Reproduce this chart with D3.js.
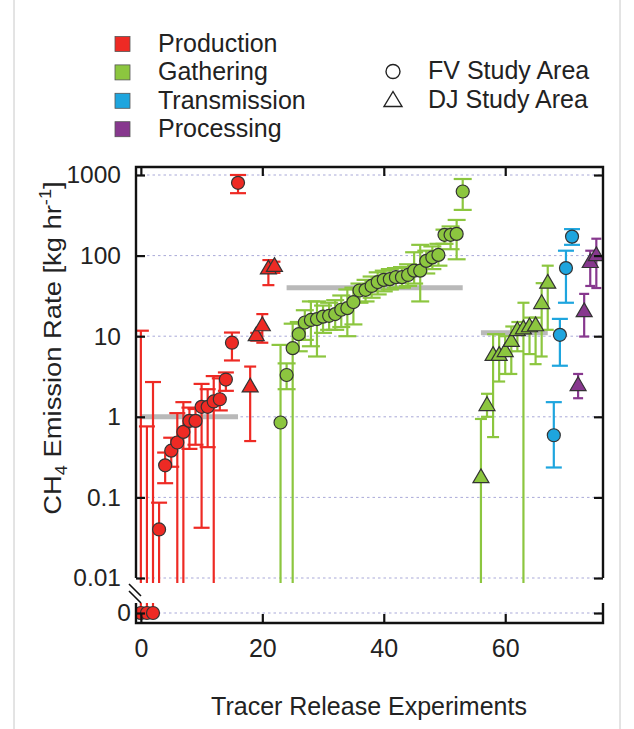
<!DOCTYPE html>
<html><head><meta charset="utf-8">
<script src="https://cdn.jsdelivr.net/npm/d3@7"></script>
<style>
body{margin:0;background:#fff}
svg{display:block}
text{font-family:"Liberation Sans",Arial,sans-serif;fill:#222}
</style>
</head><body><svg id="c" width="634" height="729"></svg>
<script>
// ---------- data ----------
const sectors = ["Production","Gathering","Transmission","Processing"];
const sectorColors = ["#ee2a24","#8cc63f","#1ea5de","#87388e"];
const areas = ["FV Study Area","DJ Study Area"];
const yTicks = [1000,100,10,1,0.1,0.01];
const yTickLabels = ["1000","100","10","1","0.1","0.01"];
const xTicks = [0,20,40,60];

// Production, FV (circles)
const prodFVx  = [0,1,2,3,4,5,6,7,8,9,10,11,12,13,14,15,16];
const prodFVv  = [0,0,0,0.04,0.25,0.38,0.48,0.65,0.89,0.89,1.33,1.33,1.55,1.65,2.9,8.3,800];
const prodFVlo = [0,0,0,0,0.15,0.24,0,0,0.4,0.45,0.042,0.42,0,1.2,2.1,5.0,595];
const prodFVhi = [11.7,0.76,2.7,0.086,0.36,0.55,1.11,1.52,1.3,1.25,2.56,2.2,3.2,3.0,3.55,11.1,1000];
// Production, DJ (triangles)
const prodDJx  = [18,19,20,21,22];
const prodDJv  = [2.4,10.4,13.8,70,75];
const prodDJlo = [0.5,8.8,8.3,43,61];
const prodDJhi = [4.2,11,18.8,88,84];
// Gathering, FV
const gathFVx  = [23,24,25,26,27,28,29,30,31,32,33,34,35,36,37,38,39,40,41,42,43,44,45,46,47,48,49,50,51,52,53];
const gathFVv  = [0.85,3.3,7.1,10.6,14.8,15.9,16.3,17.5,17.9,18.8,21.3,22.3,26.5,36.9,37.6,42,47,50,51,54,54,57.5,65,65,86,95,102,181,181,186,624];
const gathFVlo = [0,2.2,0,6.5,9,7.5,5.6,11,12,12,13,10,14,26,27,30,33,36,38,40,40,42,45,27,60,68,75,140,120,90,369];
const gathFVhi = [7.8,4.6,14.3,15,21,27,27,24,26,28,32,38,40,45,50,55,62,65,68,70,72,78,110,136,115,130,140,210,230,277,892];
// Gathering, DJ
const gathDJx  = [56,57,58,59,60,61,62,63,64,65,66,67];
const gathDJv  = [0.18,1.41,5.9,5.9,6.6,8.8,12.0,12.6,13.4,13.8,26,46.5];
const gathDJlo = [0,1.0,0.56,2.74,3.4,3.4,6.5,0,6,4.5,5.6,12];
const gathDJhi = [0.94,1.93,10.6,10.6,10,13.2,15,26,17,17,45.5,75];
// Transmission, FV
const tranFVx  = [68,69,70,71];
const tranFVv  = [0.59,10.4,70,172];
const tranFVlo = [0.235,4.3,26,136];
const tranFVhi = [1.52,16.4,115,213];
// Processing, DJ
const procDJx  = [72,73,74,75];
const procDJv  = [2.5,20.6,84,102];
const procDJlo = [1.7,9.9,42,39.6];
const procDJhi = [3.4,33.5,115,162];
// group means (grey bars)
const meanX0 = [0,24,56];
const meanX1 = [16,53,67];
const meanV  = [1,40,11];

const groups = [
  {s:0,a:0,x:prodFVx,v:prodFVv,lo:prodFVlo,hi:prodFVhi,cap:8},
  {s:0,a:1,x:prodDJx,v:prodDJv,lo:prodDJlo,hi:prodDJhi,cap:6},
  {s:1,a:0,x:gathFVx,v:gathFVv,lo:gathFVlo,hi:gathFVhi,cap:9},
  {s:1,a:1,x:gathDJx,v:gathDJv,lo:gathDJlo,hi:gathDJhi,cap:6},
  {s:2,a:0,x:tranFVx,v:tranFVv,lo:tranFVlo,hi:tranFVhi,cap:8},
  {s:3,a:1,x:procDJx,v:procDJv,lo:procDJlo,hi:procDJhi,cap:5}
];
const points = [];
groups.forEach(g=>g.x.forEach((xx,i)=>points.push({x:xx,v:g.v[i],lo:g.lo[i],hi:g.hi[i],s:g.s,a:g.a,cap:g.cap})));

// ---------- layout ----------
const svg = d3.select("#c");
const L=136, R=603, T=167, B=623, breakLo=583, breakHi=603;
const x = d3.scaleLinear().domain([-0.8,76.1]).range([L,R]);
const y = d3.scaleLog().domain([0.01,1000]).range([578,175]);
const yZ = d3.scaleLinear().domain([0,1]).range([613,603]);
const yPos = v => v===0 ? yZ(0) : y(v);

// outer panel lines
svg.append("line").attr("x1",14).attr("x2",14).attr("y1",0).attr("y2",729).attr("stroke","#c8c8c8").attr("stroke-width",1);
svg.append("line").attr("x1",620).attr("x2",620).attr("y1",0).attr("y2",729).attr("stroke","#c8c8c8").attr("stroke-width",1);

svg.append("defs").append("clipPath").attr("id","clip").append("rect")
  .attr("x",L).attr("y",T).attr("width",R-L).attr("height",B-T);

// grid
const grid = svg.append("g");
yTicks.forEach(t=>grid.append("line").attr("x1",L).attr("x2",R).attr("y1",y(t)).attr("y2",y(t)));
grid.append("line").attr("x1",L).attr("x2",R).attr("y1",yZ(0)).attr("y2",yZ(0));
grid.selectAll("line").attr("stroke","#a9a9d8").attr("stroke-width",1).attr("stroke-dasharray","2.5,3");

const plot = svg.append("g").attr("clip-path","url(#clip)");

// grey mean bars
meanV.forEach((m,i)=>plot.append("line")
  .attr("x1",x(meanX0[i])).attr("x2",x(meanX1[i])).attr("y1",y(m)).attr("y2",y(m))
  .attr("stroke","#b9b9b9").attr("stroke-width",5));

// error bars
const eb = plot.append("g").attr("stroke-width",2.2).attr("fill","none");
points.forEach(p=>{
  const c = sectorColors[p.s], cx = x(p.x);
  const top = y(p.hi);
  const bot = (p.lo>=0.01) ? y(p.lo) : breakLo;
  eb.append("line").attr("x1",cx).attr("x2",cx).attr("y1",top).attr("y2",bot).attr("stroke",c);
  eb.append("line").attr("x1",cx-p.cap).attr("x2",cx+p.cap).attr("y1",top).attr("y2",top).attr("stroke",c);
  if(p.lo>=0.01) eb.append("line").attr("x1",cx-p.cap).attr("x2",cx+p.cap).attr("y1",bot).attr("y2",bot).attr("stroke",c);
  if(p.v===0) eb.append("line").attr("x1",cx).attr("x2",cx).attr("y1",yZ(0)).attr("y2",breakHi).attr("stroke",c);
});

// markers
const tri = "M0,-8L8,5.8L-8,5.8Z";
const mk = plot.append("g");
points.forEach(p=>{
  const cx=x(p.x), cy=yPos(p.v), c=sectorColors[p.s];
  if(p.a===0) mk.append("circle").attr("cx",cx).attr("cy",cy).attr("r",6.5)
      .attr("fill",c).attr("stroke","#333").attr("stroke-width",1.2);
  else mk.append("path").attr("d",tri).attr("transform",`translate(${cx},${cy})`)
      .attr("fill",c).attr("stroke","#333").attr("stroke-width",1.2);
});

// ---------- axes ----------
const ax = svg.append("g");
const axStyle = g=>{g.select(".domain").remove(); g.selectAll("line").attr("stroke","#111").attr("stroke-width",2.2);};
ax.append("g").attr("transform",`translate(${L},0)`).call(d3.axisRight(y).tickValues(yTicks).tickSize(9).tickFormat("")).call(axStyle);
ax.append("g").attr("transform",`translate(${L},0)`).call(d3.axisRight(yZ).tickValues([0]).tickSize(9).tickFormat("")).call(axStyle);
ax.append("g").attr("transform",`translate(${R},0)`).call(d3.axisLeft(y).tickValues(yTicks).tickSize(9).tickFormat("")).call(axStyle);
ax.append("g").attr("transform",`translate(${R},0)`).call(d3.axisLeft(yZ).tickValues([0]).tickSize(9).tickFormat("")).call(axStyle);
ax.append("g").attr("transform",`translate(0,${T})`).call(d3.axisBottom(x).tickValues(xTicks).tickSize(9).tickFormat("")).call(axStyle);
ax.append("g").attr("transform",`translate(0,${B})`).call(d3.axisTop(x).tickValues(xTicks).tickSize(9).tickFormat("")).call(axStyle);
const lab = fs=>g=>{g.select(".domain").remove(); g.selectAll("text").attr("font-size",fs).attr("fill","#222").attr("font-family","Liberation Sans, Arial, sans-serif");};
ax.append("g").attr("transform",`translate(${L},0)`).call(d3.axisLeft(y).tickValues(yTicks).tickSize(0).tickPadding(15).tickFormat((d,i)=>yTickLabels[i])).call(lab(24.5));
ax.append("g").attr("transform",`translate(${L},0)`).call(d3.axisLeft(yZ).tickValues([0]).tickSize(0).tickPadding(5).tickFormat(d3.format("d"))).call(lab(24.5));
ax.append("g").attr("transform",`translate(0,${B})`).call(d3.axisBottom(x).tickValues(xTicks).tickSize(0).tickPadding(16).tickFormat(d3.format("d"))).call(lab(25));

// frame
const fr = svg.append("g").attr("stroke","#111").attr("stroke-width",2.4).attr("fill","none");
fr.append("path").attr("d",`M${L},${y(0.01)}V${T}H${R}V${y(0.01)}`);
fr.append("path").attr("d",`M${L},${breakHi}V${B}H${R}V${breakHi}`);
fr.append("path").attr("d",`M${L-7},${584}L${L+5},${596}M${L-7},${591}L${L+5},${603}`).attr("stroke-width",1.6);

// axis titles
svg.append("text").attr("x",369).attr("y",715).attr("text-anchor","middle").attr("font-size",25).text("Tracer Release Experiments");
const yl = svg.append("text").attr("transform","translate(61,348) rotate(-90) scale(1.14,1)").attr("text-anchor","middle").attr("font-size",24);
yl.append("tspan").text("CH");
yl.append("tspan").attr("font-size",16).attr("dy",6).text("4");
yl.append("tspan").attr("dy",-6).text(" Emission Rate [kg hr");
yl.append("tspan").attr("font-size",16).attr("dy",-10).text("-1");
yl.append("tspan").attr("dy",10).text("]");

// legend
const lg = svg.append("g");
sectors.forEach((s,i)=>{
  const by = 52 + i*28.4;
  lg.append("rect").attr("x",115).attr("y",by-15.5).attr("width",15).attr("height",15)
    .attr("fill",sectorColors[i]).attr("stroke","#555").attr("stroke-width",0.8);
  lg.append("text").attr("x",158).attr("y",by).attr("font-size",25).text(s);
});
lg.append("circle").attr("cx",393).attr("cy",71.5).attr("r",7).attr("fill","none").attr("stroke","#222").attr("stroke-width",1.4);
lg.append("path").attr("d","M0,-8.5L9,6.5L-9,6.5Z").attr("transform","translate(393,100)").attr("fill","none").attr("stroke","#222").attr("stroke-width",1.4);
areas.forEach((a,i)=>lg.append("text").attr("x",428).attr("y",79+i*28.5).attr("font-size",25).text(a));
</script>
</body></html>
